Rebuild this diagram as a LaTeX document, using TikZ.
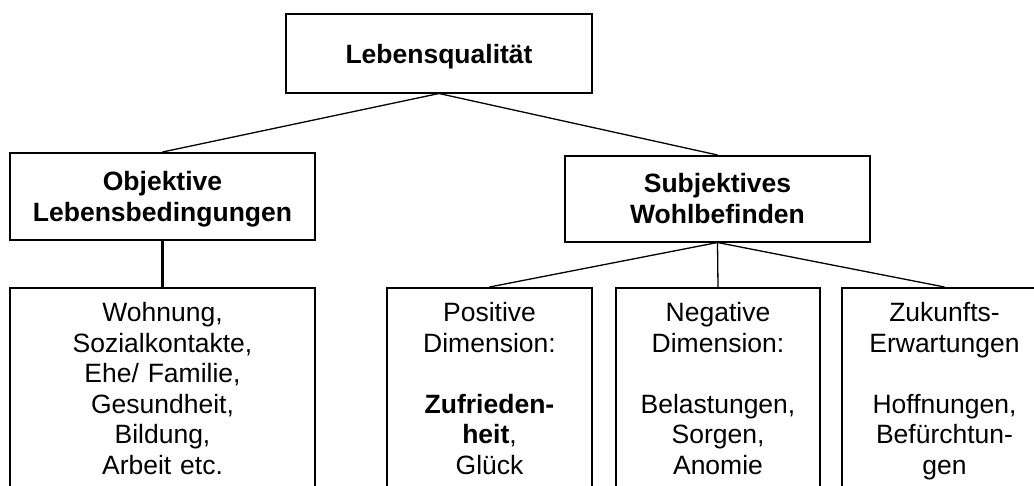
\documentclass[tikz,border=0pt]{standalone}
\usepackage{fontspec}
\setmainfont{Liberation Sans}
\usepackage{tikz}
\usetikzlibrary{positioning}

\begin{document}
\begin{tikzpicture}[x=1pt, y=-1pt,
  box/.style={draw, line width=1.5pt, inner sep=0pt, anchor=north, align=center,
    font=\fontsize{26.5}{30.5}\selectfont},
  head/.style={box, font=\fontsize{26.5}{30.5}\selectfont\bfseries},
  link/.style={line width=1.3pt}
]
\useasboundingbox (0,0) rectangle (1034,485);
\clip (0,0) rectangle (1034,485);
% upper levels
\node[head, text width=306pt, text height=50pt, text depth=29pt] (lq) at (439,13) {Lebensqualität};
\node[head, text width=305pt, text height=38pt, text depth=49pt] (obj) at (162.5,152) {Objektive\\Lebensbedingungen};
\node[head, text width=305pt, text height=37pt, text depth=49pt] (subj) at (717.5,155) {Subjektives\\Wohlbefinden};
% lower level
\node[box, text width=305pt, text height=34pt, text depth=250pt] (cond) at (162.5,287) {Wohnung,\\Sozialkontakte,\\Ehe/ Familie,\\Gesundheit,\\Bildung,\\Arbeit etc.};
\node[box, text width=205pt, text height=34pt, text depth=250pt] (pos) at (489.5,287) {Positive\\Dimension:\\[30.5pt]\textbf{Zufrieden-}\\\textbf{heit},\\Glück};
\node[box, text width=204pt, text height=34pt, text depth=250pt] (neg) at (718,287) {Negative\\Dimension:\\[30.5pt]Belastungen,\\Sorgen,\\Anomie};
\node[box, text width=205pt, text height=34pt, text depth=250pt] (fut) at (944.5,287) {Zukunfts-\\Erwartungen\\[30.5pt]Hoffnungen,\\Befürchtun-\\gen};
% connectors
\draw[link] (lq.south) -- (obj.north);
\draw[link] (lq.south) -- (subj.north);
\draw[link, line width=2.6pt] (obj.south) -- (cond.north);
\draw[link] (subj.south) -- (pos.north);
\draw[link] (subj.south) -- (neg.north);
\draw[link] (subj.south) -- (fut.north);
\end{tikzpicture}
\end{document}
